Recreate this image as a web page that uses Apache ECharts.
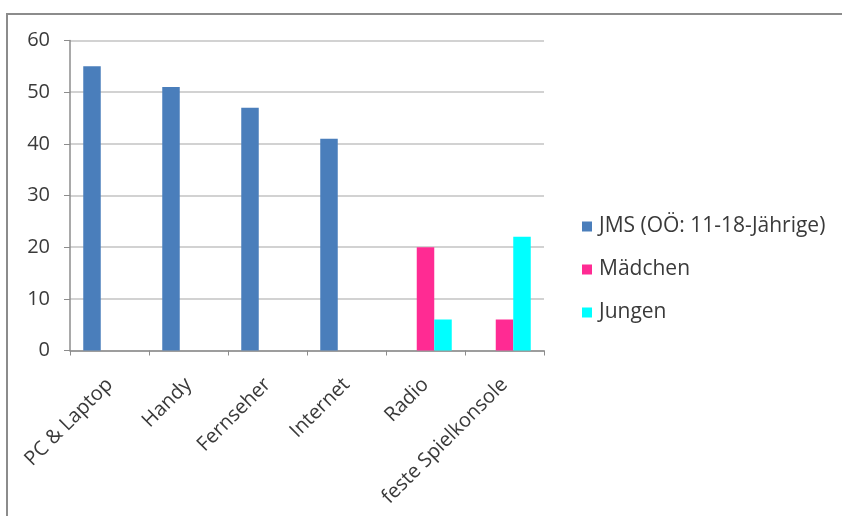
<!DOCTYPE html>
<html>
<head>
<meta charset="utf-8">
<script src="https://cdn.jsdelivr.net/npm/echarts@6/dist/echarts.min.js"></script>
<style>
    html, body { margin: 0; padding: 0; background: #fff; }
    #chart { width: 842px; height: 516px; }
</style>
</head>
<body>
<div id="chart"></div>
<script>
    // Kategorien und Werte
    const categories = ['PC & Laptop', 'Handy', 'Fernseher', 'Internet', 'Radio', 'feste Spielkonsole']
    const jmsValues = [55, 51, 47, 41, null, null]
    const maedchenValues = [null, null, null, null, 20, 6]
    const jungenValues = [null, null, null, null, 6, 22]
    const yTicks = [0, 10, 20, 30, 40, 50, 60]

    const labelFont = '"Open Sans", Lato, "Noto Sans", sans-serif'
    const chart = echarts.init(document.getElementById('chart'))

    const option = {
        animation: false,
        textStyle: { fontFamily: labelFont },
        // Rahmen oben und links
        graphic: [{
            type: 'polyline',
            shape: { points: [[7, 520], [7, 14], [850, 14]] },
            style: { stroke: '#8c8c8c', lineWidth: 2, fill: null }
        }],
        grid: {
            left: 70,
            right: 298,
            top: 40.5,
            bottom: 165.5,
            containLabel: false
        },
        legend: {
            orient: 'vertical',
            left: 577,
            top: 211,
            itemWidth: 10,
            itemHeight: 10,
            itemGap: 22,
            icon: 'rect',
            data: ['JMS (OÖ: 11-18-Jährige)', 'Mädchen', 'Jungen'],
            textStyle: {
                fontSize: 21,
                color: '#3a3a3a',
                lineHeight: 20,
                padding: [0, 0, 0, 2]
            }
        },
        xAxis: {
            type: 'category',
            data: categories,
            axisLine: { lineStyle: { color: '#8c8c8c', width: 1.5 } },
            axisTick: { show: true, length: 5, lineStyle: { color: '#8c8c8c' } },
            axisLabel: {
                rotate: 45,
                interval: 0,
                fontSize: 20,
                color: '#3a3a3a',
                margin: 31
            }
        },
        yAxis: {
            type: 'value',
            min: yTicks[0],
            max: yTicks[yTicks.length - 1],
            interval: 10,
            axisLine: { show: true, lineStyle: { color: '#8c8c8c', width: 1.5 } },
            axisTick: { show: true, inside: false, length: 6, lineStyle: { color: '#8c8c8c' } },
            axisLabel: { fontSize: 20, color: '#3a3a3a', margin: 20 },
            splitLine: { lineStyle: { color: '#c3c3c3', width: 1.5 } }
        },
        series: [{
            name: 'JMS (OÖ: 11-18-Jährige)',
            type: 'bar',
            barWidth: 17.5,
            barGap: '0%',
            itemStyle: { color: '#4a7ebb' },
            data: jmsValues
        }, {
            name: 'Mädchen',
            type: 'bar',
            barWidth: 17.5,
            barGap: '0%',
            itemStyle: { color: '#ff2b93' },
            data: maedchenValues
        }, {
            name: 'Jungen',
            type: 'bar',
            barWidth: 17.5,
            barGap: '0%',
            itemStyle: { color: '#00ffff' },
            data: jungenValues
        }]
    }
    chart.setOption(option)
</script>
</body>
</html>
